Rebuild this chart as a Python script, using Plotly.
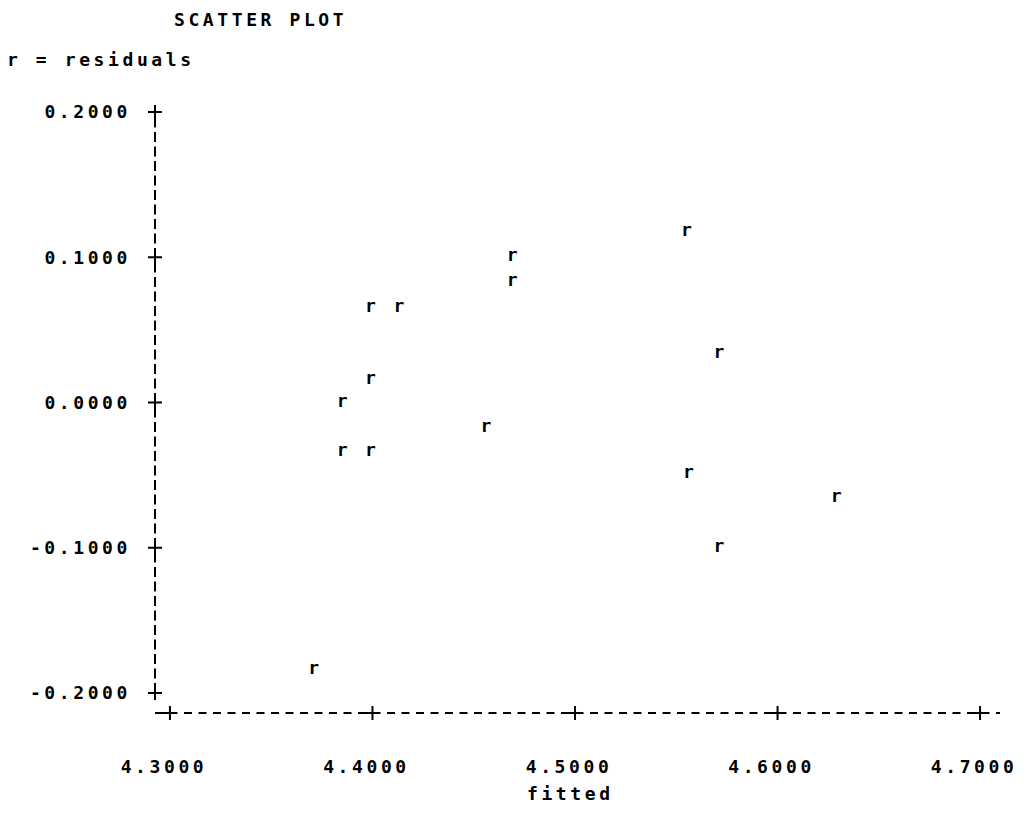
import plotly.graph_objects as go

# ---- data ----
fitted = [4.371, 4.385, 4.385, 4.399, 4.399, 4.399, 4.413, 4.456, 4.469, 4.469,
          4.555, 4.556, 4.571, 4.571, 4.629]
residuals = [-0.1835, 0.0, -0.0334, -0.0334, 0.0155, 0.0657, 0.0657, -0.0169, 0.1002, 0.0830,
             0.1176, -0.0492, 0.0334, -0.0995, -0.0657]
point_symbol = "r"

x_ticks = [4.3, 4.4, 4.5, 4.6, 4.7]
x_labels = ["4.3000", "4.4000", "4.5000", "4.6000", "4.7000"]
y_ticks = [0.2, 0.1, 0.0, -0.1, -0.2]
y_labels = ["0.2000", "0.1000", "0.0000", "-0.1000", "-0.2000"]

title_text = "SCATTER PLOT"
legend_text = "r = residuals"
x_title = "fitted"

# ---- styling ----
FONT = "DejaVu Sans Mono"
FS = 18
LS = "3.6px"
X_RANGE = [4.29262, 4.70984]
Y_RANGE = [-0.21377, 0.20413]
OFF = 8  # page body margin of the browser


def spaced(s):
    return "<span style='letter-spacing:%s;font-weight:bold'>%s</span>" % (LS, s)


fig = go.Figure()

# data points drawn as the character "r"
fig.add_trace(go.Scatter(
    x=fitted, y=residuals, mode="text", text=["<b>%s</b>" % point_symbol] * len(fitted),
    textposition="middle center",
    textfont=dict(family=FONT, size=FS, color="black"),
    hoverinfo="skip", showlegend=False, cliponaxis=False,
))

# "+" tick marks on the vertical axis
fig.add_trace(go.Scatter(
    x=[X_RANGE[0]] * len(y_ticks), y=y_ticks, mode="markers",
    marker=dict(symbol="cross-thin", size=10, line=dict(width=2, color="black"), color="black"),
    hoverinfo="skip", showlegend=False, cliponaxis=False,
))
# "+" tick marks on the horizontal axis
fig.add_trace(go.Scatter(
    x=x_ticks, y=[Y_RANGE[0]] * len(x_ticks), mode="markers",
    marker=dict(symbol="cross-thin", size=10, line=dict(width=2, color="black"), color="black"),
    hoverinfo="skip", showlegend=False, cliponaxis=False,
))

# dashed axis lines
fig.add_shape(type="line", xref="paper", yref="y", x0=0, x1=0, y0=min(y_ticks), y1=Y_RANGE[1],
              line=dict(color="black", width=2, dash="10px,4.5px"))
fig.add_shape(type="line", xref="paper", yref="paper", x0=0, x1=1, y0=0, y1=0,
              line=dict(color="black", width=2, dash="8px,6.5px"))

fig.update_layout(
    width=1029 - OFF, height=828 - OFF,
    margin=dict(l=155 - OFF, r=26, t=106 - OFF, b=115),
    paper_bgcolor="white", plot_bgcolor="white",
    font=dict(family=FONT, size=FS, color="black"),
    showlegend=False,
    xaxis=dict(range=X_RANGE, tickvals=x_ticks, ticktext=[spaced(t) for t in x_labels],
               ticks="", showgrid=False, zeroline=False, showline=False,
               tickfont=dict(family=FONT, size=FS, color="black"),
               ticklabelstandoff=41, ticklabelshift=-6, fixedrange=True),
    yaxis=dict(range=Y_RANGE, tickvals=y_ticks, ticktext=[spaced(t) for t in y_labels],
               ticks="", showgrid=False, zeroline=False, showline=False,
               tickfont=dict(family=FONT, size=FS, color="black"),
               ticklabelstandoff=23, fixedrange=True),
    annotations=[
        dict(text=spaced(title_text), xref="paper", yref="paper", x=(173 - 155) / 848,
             y=(713 - 19) / 607, xanchor="left", yanchor="middle", showarrow=False, borderpad=0,
             font=dict(family=FONT, size=FS, color="black")),
        dict(text=spaced(legend_text), xref="paper", yref="paper", x=(5 - 155) / 848,
             y=(713 - 60) / 607, xanchor="left", yanchor="middle", showarrow=False, borderpad=0,
             font=dict(family=FONT, size=FS, color="black")),
        dict(text=spaced(x_title), xref="paper", yref="paper", x=(572 - 155) / 848,
             y=(713 - 793) / 607, xanchor="center", yanchor="middle", showarrow=False, borderpad=0,
             font=dict(family=FONT, size=FS, color="black")),
    ],
)

fig.write_html("out.html")
